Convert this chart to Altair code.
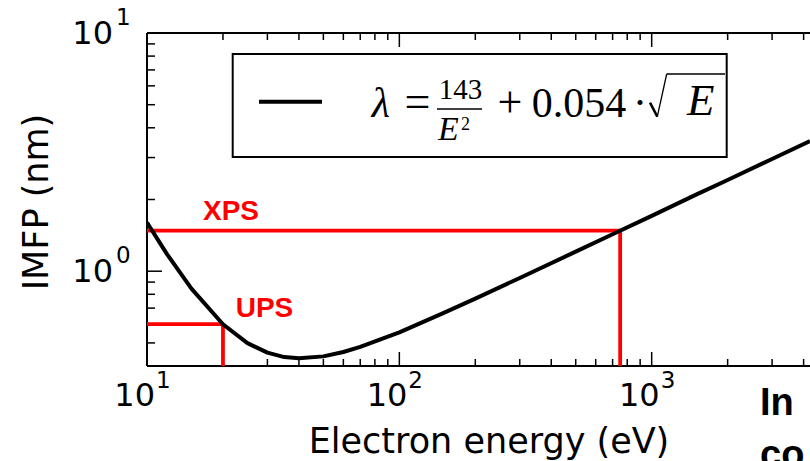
import altair as alt
import pandas as pd

# ---- data ----
energy = [10, 12, 15, 20, 25, 30, 35, 40, 50, 60, 70, 100, 150, 200, 300, 500, 700, 1000, 1500, 2000, 3000, 4240]
imfp = [1.601, 1.180, 0.845, 0.599, 0.499, 0.455, 0.436, 0.431, 0.439, 0.458, 0.481, 0.554, 0.668, 0.767,
        0.937, 1.208, 1.429, 1.708, 2.097, 2.415, 2.958, 3.516]

probe_names = ["XPS", "UPS"]
probe_energy = [750, 20]
probe_imfp = [1.48, 0.60]

x_major = [10, 100, 1000]
x_major_exp = ["1", "2", "3"]
x_minor = [20, 30, 40, 50, 60, 70, 80, 90, 200, 300, 400, 500, 600, 700, 800, 900, 2000, 3000, 4000]
y_major = [1, 10]
y_major_exp = ["0", "1"]
y_minor = [0.5, 0.6, 0.7, 0.8, 0.9, 2, 3, 4, 5, 6, 7, 8, 9]

x_domain = [10, 4240]
y_domain = [0.4, 10]

W, H = 663, 333

curve = pd.DataFrame({"E": energy, "lam": imfp})
probes = pd.DataFrame({"name": probe_names, "E": probe_energy, "lam": probe_imfp})
xmaj = pd.DataFrame({"E": x_major, "exp": x_major_exp})
xmin = pd.DataFrame({"E": x_minor})
ymaj = pd.DataFrame({"lam": y_major, "exp": y_major_exp})
ymin = pd.DataFrame({"lam": y_minor})
one = pd.DataFrame({"k": [0]})

xs = alt.Scale(type="log", domain=x_domain, nice=False, zero=False)
ys = alt.Scale(type="log", domain=y_domain, nice=False, zero=False)
X = alt.X("E:Q", scale=xs, axis=None)
Y = alt.Y("lam:Q", scale=ys, axis=None)

layers = []

# spines
layers.append(alt.Chart(one).mark_rule(color="black", strokeWidth=2).encode(
    x=alt.value(0), y=alt.value(0), y2=alt.value(H)))
layers.append(alt.Chart(one).mark_rule(color="black", strokeWidth=2).encode(
    x=alt.value(0), x2=alt.value(W), y=alt.value(0)))
layers.append(alt.Chart(one).mark_rule(color="black", strokeWidth=2).encode(
    x=alt.value(0), x2=alt.value(W), y=alt.value(H)))

# inward ticks
for df, ln in ((xmaj, 14), (xmin, 7)):
    layers.append(alt.Chart(df).mark_rule(color="black", strokeWidth=1.5).encode(
        x=X, y=alt.value(H), y2=alt.value(H - ln)))
    layers.append(alt.Chart(df).mark_rule(color="black", strokeWidth=1.5).encode(
        x=X, y=alt.value(0), y2=alt.value(ln)))
for df, ln in ((ymaj, 15), (ymin, 8)):
    layers.append(alt.Chart(df).mark_rule(color="black", strokeWidth=1.5).encode(
        y=Y, x=alt.value(0), x2=alt.value(ln)))

# tick labels
layers.append(alt.Chart(xmaj).mark_text(font="DejaVu Sans", fontSize=32, align="right",
                                        baseline="alphabetic", dx=8, color="black").encode(
    x=X, y=alt.value(373), text=alt.value("10")))
layers.append(alt.Chart(xmaj).mark_text(font="DejaVu Sans", fontSize=23, align="left",
                                        baseline="alphabetic", dx=9, color="black").encode(
    x=X, y=alt.value(355), text="exp:N"))
layers.append(alt.Chart(ymaj).mark_text(font="DejaVu Sans", fontSize=32, align="right",
                                        baseline="alphabetic", dy=11, color="black").encode(
    y=Y, x=alt.value(-34), text=alt.value("10")))
layers.append(alt.Chart(ymaj).mark_text(font="DejaVu Sans", fontSize=23, align="left",
                                        baseline="alphabetic", dy=-8, color="black").encode(
    y=Y, x=alt.value(-31), text="exp:N"))

# axis titles
layers.append(alt.Chart(one).mark_text(font="DejaVu Sans", fontSize=35, align="center",
                                       baseline="alphabetic", color="black").encode(
    x=alt.value(342), y=alt.value(420), text=alt.value("Electron energy (eV)")))
layers.append(alt.Chart(one).mark_text(font="DejaVu Sans", fontSize=35, align="center",
                                       baseline="alphabetic", angle=270, color="black").encode(
    x=alt.value(-99), y=alt.value(169), text=alt.value("IMFP (nm)")))

# red probe lines
layers.append(alt.Chart(probes).mark_rule(color="#ff0000", strokeWidth=3.8).encode(
    x=X, x2=alt.value(0), y=Y))
layers.append(alt.Chart(probes).mark_rule(color="#ff0000", strokeWidth=3.8).encode(
    x=X, y=Y, y2=alt.value(H)))

# curve
layers.append(alt.Chart(curve).mark_line(color="black", strokeWidth=4, clip=True,
                                         strokeJoin="round").encode(x=X, y=Y))

# probe labels
layers.append(alt.Chart(one).mark_text(font="Liberation Sans", fontWeight="bold", fontSize=28,
                                       color="#ff0000", align="center", baseline="alphabetic").encode(
    x=alt.value(84), y=alt.value(187), text=alt.value(probe_names[0])))
layers.append(alt.Chart(one).mark_text(font="Liberation Sans", fontWeight="bold", fontSize=28,
                                       color="#ff0000", align="center", baseline="alphabetic").encode(
    x=alt.value(117.5), y=alt.value(284), text=alt.value(probe_names[1])))

# legend box
layers.append(alt.Chart(one).mark_rect(fill="white", stroke="black", strokeWidth=2).encode(
    x=alt.value(85.7), x2=alt.value(579.7), y=alt.value(21), y2=alt.value(124)))
layers.append(alt.Chart(one).mark_rule(color="black", strokeWidth=4).encode(
    x=alt.value(112), x2=alt.value(175), y=alt.value(68.7)))

serif = "Liberation Serif"
def txt(t, x, y, size, align="left", style="normal"):
    return alt.Chart(one).mark_text(font=serif, fontSize=size, align=align, fontStyle=style,
                                    baseline="alphabetic", color="black").encode(
        x=alt.value(x), y=alt.value(y), text=alt.value(t))

layers.append(txt("λ", 224.7, 83.5, 42, style="italic"))
layers.append(txt("=", 270.5, 83.5, 46, align="center"))
layers.append(txt("143", 313.5, 66.3, 29, align="center"))
layers.append(alt.Chart(one).mark_rule(color="black", strokeWidth=1.5).encode(
    x=alt.value(290), x2=alt.value(335), y=alt.value(76)))
layers.append(txt("E", 291, 107, 34, style="italic"))
layers.append(txt("2", 314, 97, 18))
layers.append(txt("+", 363, 83.5, 44, align="center"))
layers.append(txt("0.054", 384.7, 83.5, 42))
layers.append(txt("·", 493, 83.5, 42, align="center"))
layers.append(txt("E", 540, 82, 45, style="italic"))
# radical sign
layers.append(alt.Chart(one).mark_rule(color="black", strokeWidth=2.5).encode(
    x=alt.value(503), y=alt.value(69.7), x2=alt.value(510.3), y2=alt.value(83.7)))
layers.append(alt.Chart(one).mark_rule(color="black", strokeWidth=1.3).encode(
    x=alt.value(510.3), y=alt.value(83.7), x2=alt.value(519.7), y2=alt.value(41)))
layers.append(alt.Chart(one).mark_rule(color="black", strokeWidth=1.5).encode(
    x=alt.value(519.7), x2=alt.value(578), y=alt.value(41)))

# slide text cut off at right
for t, yb in (("In", 382), ("co", 434)):
    layers.append(alt.Chart(one).mark_text(font="Liberation Sans", fontWeight="bold", fontSize=38,
                                           align="left", baseline="alphabetic", color="black").encode(
        x=alt.value(613), y=alt.value(yb), text=alt.value(t)))

chart = alt.layer(*layers).properties(
    width=W, height=H,
    padding={"left": 147, "top": 33, "right": 0, "bottom": 95},
    autosize=alt.AutoSizeParams(type="none"),
    background="white",
).configure_view(stroke=None)

chart.save("out.html", embed_options={"renderer": "svg", "actions": False})
